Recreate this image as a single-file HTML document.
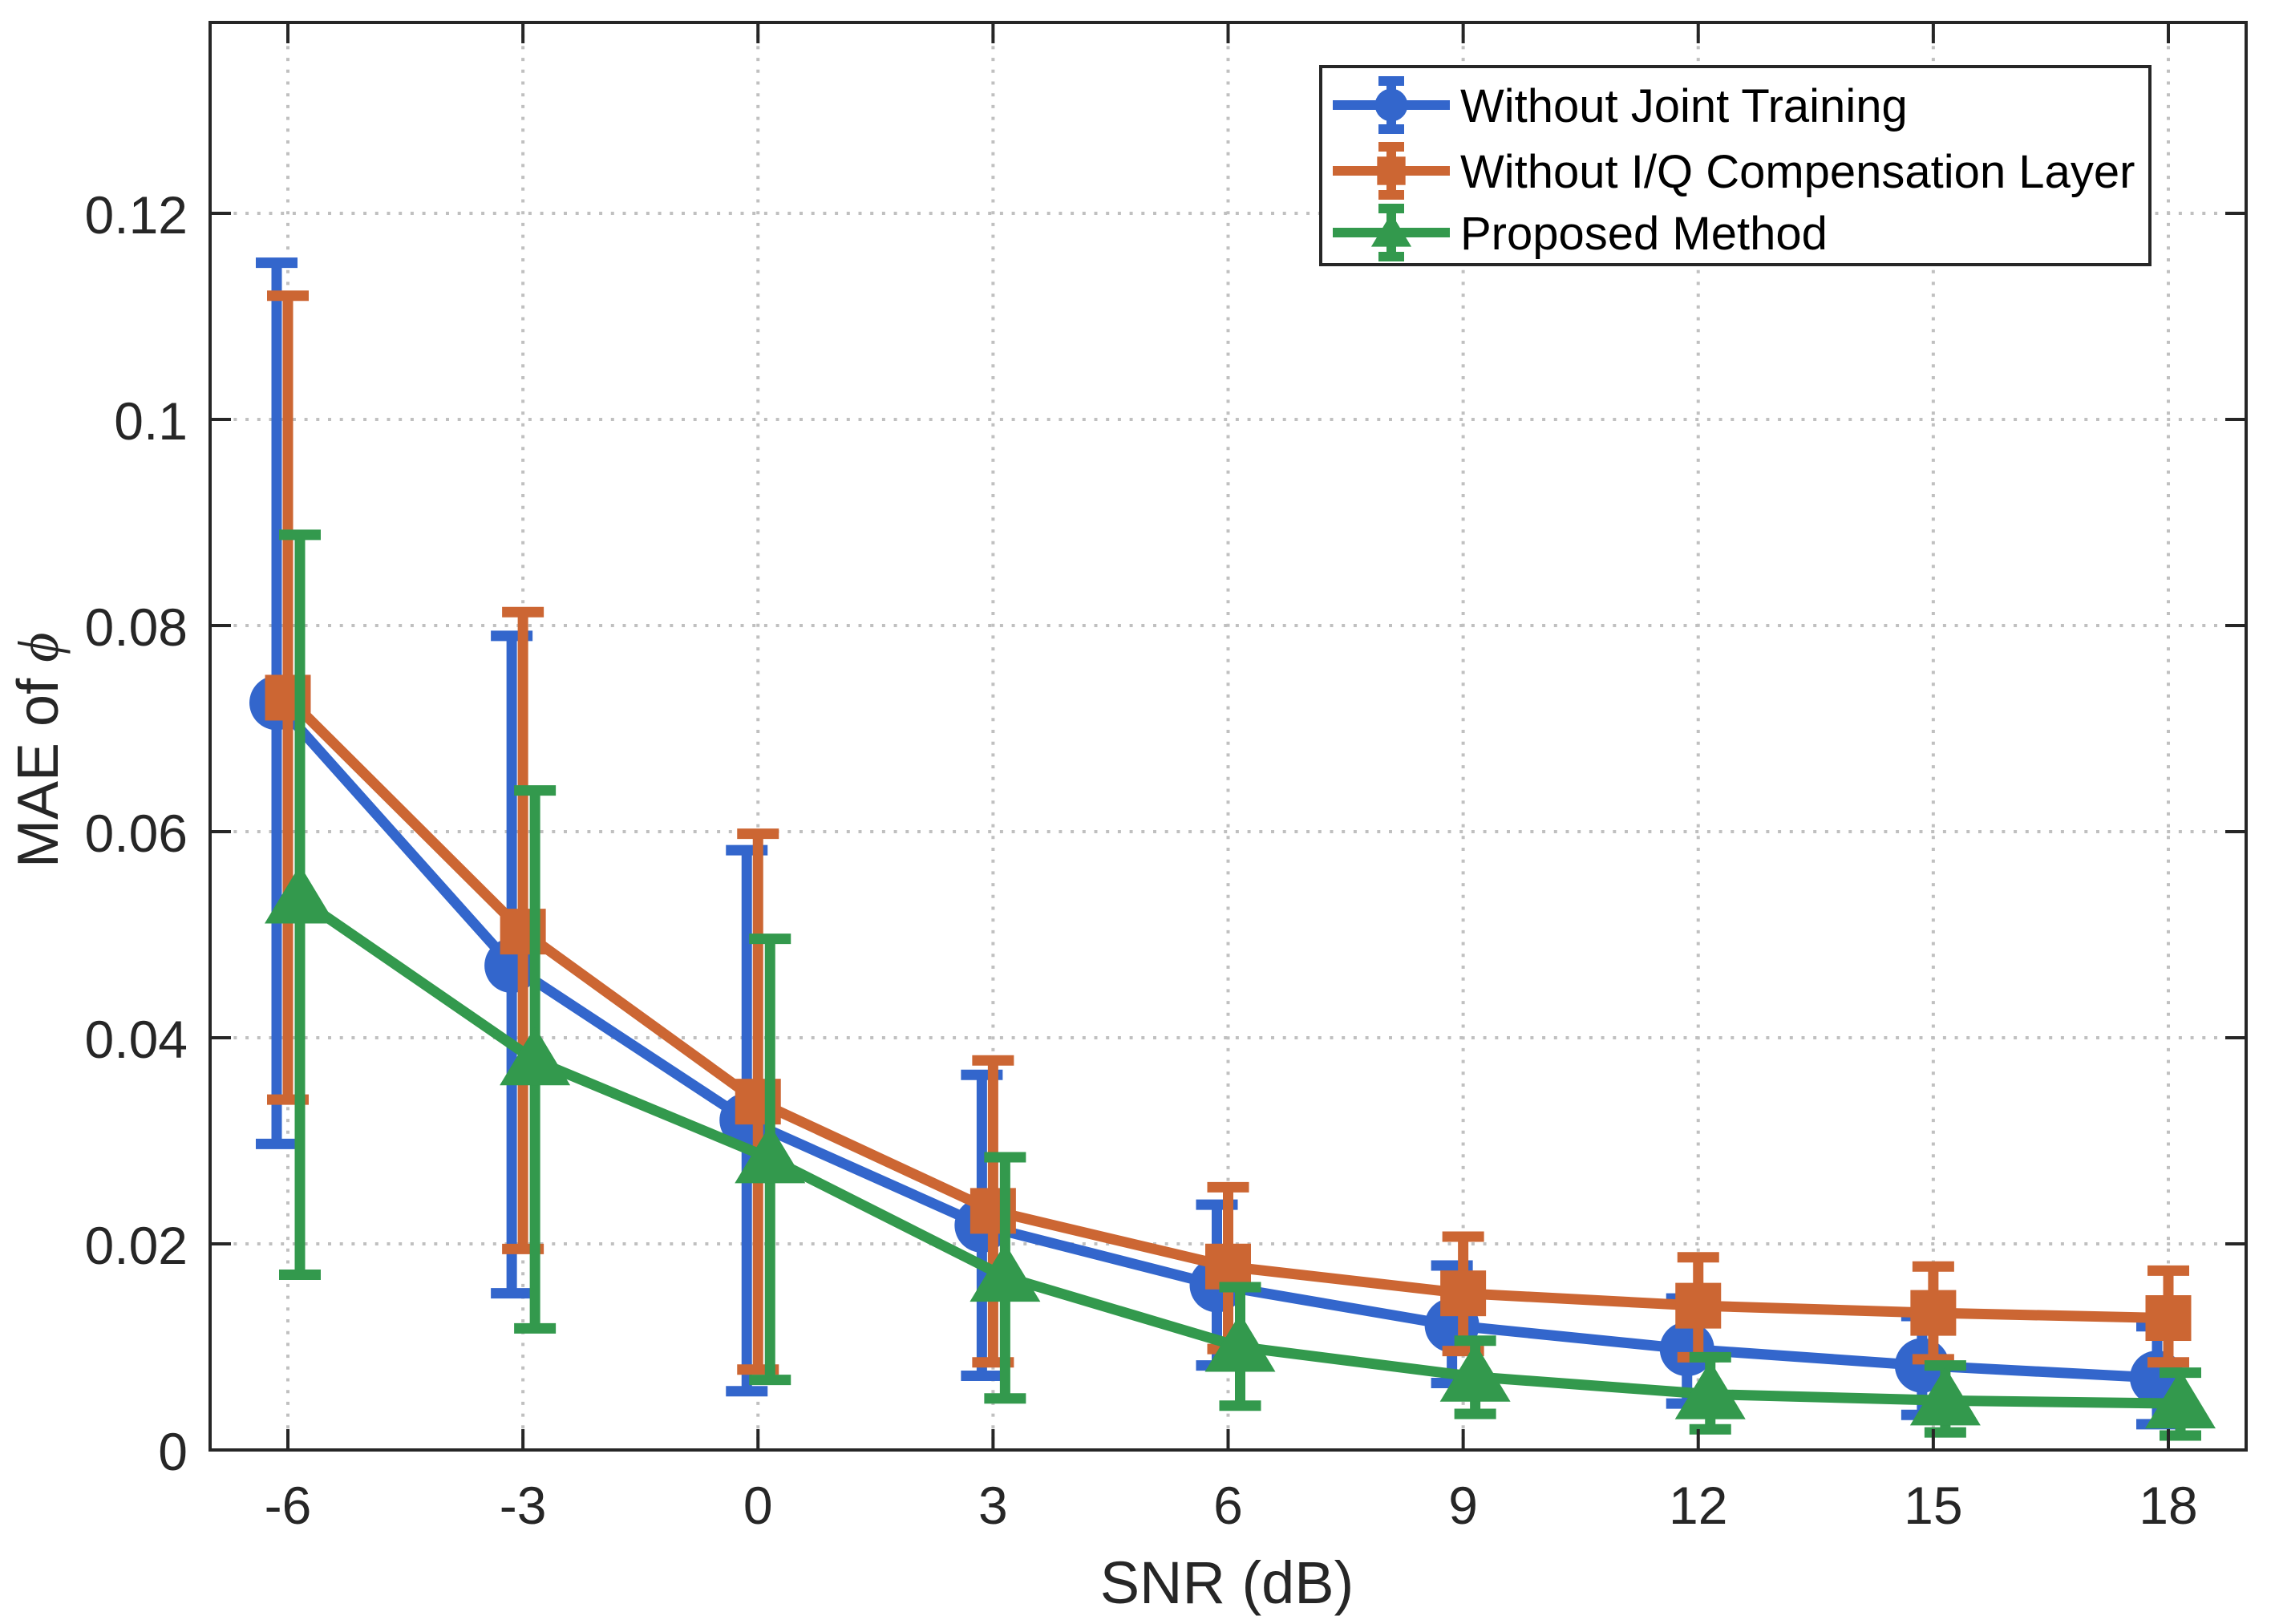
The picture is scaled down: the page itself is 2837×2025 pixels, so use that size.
<!DOCTYPE html>
<html><head><meta charset="utf-8"><style>
html,body{margin:0;padding:0;background:#fff;}
svg{display:block;font-family:"Liberation Sans",Arial,sans-serif;}
</style></head><body>
<svg id="chart" width="2837" height="2025" viewBox="0 0 2837 2025" xmlns="http://www.w3.org/2000/svg">
<rect x="0" y="0" width="2837" height="2025" fill="#fff"/>
<g id="grid"></g>
<g id="series"></g>
<g id="axes"></g>
<text x="1530" y="1999" font-size="74" text-anchor="middle" fill="#262626">SNR (dB)</text>
<text transform="translate(72,1082) rotate(-90)" font-size="72" text-anchor="start" fill="#262626">MAE of <tspan font-family="Liberation Serif, serif" font-style="italic">ϕ</tspan></text>
<g id="legend">
<rect x="1647" y="83" width="1034" height="247" fill="#fff" stroke="#262626" stroke-width="4"/>
</g>
</svg>
<script>
const categories = [-6, -3, 0, 3, 6, 9, 12, 15, 18];
const xTickLabels = ["-6", "-3", "0", "3", "6", "9", "12", "15", "18"];
const yTicks = [0, 0.02, 0.04, 0.06, 0.08, 0.1, 0.12];
const yTickLabels = ["0", "0.02", "0.04", "0.06", "0.08", "0.1", "0.12"];
const seriesNames = ["Without Joint Training", "Without I/Q Compensation Layer", "Proposed Method"];
const blueMean = [0.0725, 0.0470, 0.0320, 0.0218, 0.0160, 0.0121, 0.0098, 0.0082, 0.0070];
const blueUpper = [0.1152, 0.0790, 0.0582, 0.0364, 0.0238, 0.0179, 0.0147, 0.0130, 0.0120];
const blueLower = [0.0297, 0.0152, 0.0057, 0.0072, 0.0082, 0.0065, 0.0045, 0.0034, 0.0025];
const orangeMean = [0.0730, 0.0503, 0.0338, 0.0232, 0.0178, 0.0152, 0.0140, 0.0133, 0.0128];
const orangeUpper = [0.1120, 0.0813, 0.0598, 0.0378, 0.0255, 0.0207, 0.0187, 0.0178, 0.0174];
const orangeLower = [0.0340, 0.0195, 0.0078, 0.0085, 0.0098, 0.0096, 0.0090, 0.0088, 0.0085];
const greenMean = [0.0535, 0.0378, 0.0283, 0.0168, 0.0100, 0.0071, 0.0054, 0.0048, 0.0045];
const greenUpper = [0.0888, 0.0640, 0.0496, 0.0284, 0.0158, 0.0106, 0.0090, 0.0082, 0.0075];
const greenLower = [0.0170, 0.0118, 0.0068, 0.0050, 0.0043, 0.0035, 0.0020, 0.0017, 0.0014];

const NS = "http://www.w3.org/2000/svg";
const X0 = 262, X1 = 2801, Y0 = 28, Y1 = 1808;
function xs(v){ return 359 + (v + 6) * (2704 - 359) / 24; }
function ys(v){ return 1808 - v * (1808 - 266) / 0.12; }
function mk(tag, attrs, parent){ const e = document.createElementNS(NS, tag); for (const k in attrs) e.setAttribute(k, attrs[k]); parent.appendChild(e); return e; }

const grid = document.getElementById('grid');
const axes = document.getElementById('axes');
const gs = {stroke:"#c0c0c0", "stroke-width":4, "stroke-dasharray":"4 10.7", fill:"none"};
categories.forEach((c, i) => {
  const x = xs(c);
  const g = mk('line', Object.assign({x1:x, x2:x, y1:Y0, y2:Y1}, gs), grid);
  
  
  const t1 = mk('line', {x1:x, x2:x, y1:Y1, y2:Y1-26, stroke:"#262626", "stroke-width":4}, axes);
  
  
  const t2 = mk('line', {x1:x, x2:x, y1:Y0, y2:Y0+26, stroke:"#262626", "stroke-width":4}, axes);
  
  
  const lb = mk('text', {x:x, y:1900, "font-size":66, "text-anchor":"middle", fill:"#262626"}, axes);
  lb.textContent = xTickLabels[i];
  
  
});
yTicks.forEach((v, i) => {
  const y = ys(v);
  if (v > 0) {
    const g = mk('line', Object.assign({x1:X0, x2:X1, y1:y, y2:y}, gs), grid);
    
    
  }
  const t1 = mk('line', {x1:X0, x2:X0+26, y1:y, y2:y, stroke:"#262626", "stroke-width":4}, axes);
  
  
  const t2 = mk('line', {x1:X1, x2:X1-26, y1:y, y2:y, stroke:"#262626", "stroke-width":4}, axes);
  
  
  const lb = mk('text', {x:234, y:y+25, "font-size":66, "text-anchor":"end", fill:"#262626"}, axes);
  lb.textContent = yTickLabels[i];
  
  
});
const frame = mk('rect', {x:X0, y:Y0, width:X1-X0, height:Y1-Y0, fill:"none", stroke:"#262626", "stroke-width":4}, axes);



const seriesLayer = document.getElementById('series');
const defs = [
  {mean:blueMean, up:blueUpper, lo:blueLower, color:"#3366cc", dx:-14, shape:"circle", name:"blue"},
  {mean:orangeMean, up:orangeUpper, lo:orangeLower, color:"#cc6633", dx:0, shape:"square", name:"orange"},
  {mean:greenMean, up:greenUpper, lo:greenLower, color:"#33994d", dx:15, shape:"triangle", name:"green"}
];
function marker(shape, cx, cy, color, parent, s){
  let m;
  if (shape === "circle") m = mk('circle', {cx:cx, cy:cy, r:34*s, fill:color}, parent);
  else if (shape === "square") m = mk('rect', {x:cx-28.5*s, y:cy-28.5*s, width:57*s, height:57*s, fill:color}, parent);
  else m = mk('polygon', {points:(cx)+","+(cy-42*s)+" "+(cx-44*s)+","+(cy+31*s)+" "+(cx+44*s)+","+(cy+31*s), fill:color}, parent);
  return m;
}
defs.forEach(d => {
  const g = mk('g', {}, seriesLayer);
  
  
  const pts = categories.map((c, i) => (xs(c)+d.dx) + "," + ys(d.mean[i])).join(" ");
  const pl = mk('polyline', {points:pts, fill:"none", stroke:d.color, "stroke-width":13, "stroke-linejoin":"round"}, g);
  
  
  categories.forEach((c, i) => {
    const x = xs(c) + d.dx, yu = ys(d.up[i]), yl = ys(d.lo[i]);
    const eb = mk('path', {d:"M"+x+" "+yu+"V"+yl+"M"+(x-26)+" "+yu+"H"+(x+26)+"M"+(x-26)+" "+yl+"H"+(x+26), stroke:d.color, "stroke-width":13, fill:"none"}, g);
    
    
    const m = marker(d.shape, x, ys(d.mean[i]), d.color, g, 1);
    
    
  });
});

const legend = document.getElementById('legend');
const rowsY = [131, 213, 290];
defs.forEach((d, i) => {
  const y = rowsY[i];
  const g = mk('g', {}, legend);
  
  
  mk('path', {d:"M1662 "+y+"H1808M1735 "+(y-34)+"V"+(y+34)+"M1719 "+(y-30)+"H1751M1719 "+(y+30)+"H1751", stroke:d.color, "stroke-width":12, fill:"none"}, g);
  marker(d.shape, 1735, y, d.color, g, d.shape === "circle" ? 0.6 : (d.shape === "square" ? 0.62 : 0.57));
  const t = mk('text', {x:1821, y:y+21, "font-size":58, fill:"#000"}, g);
  t.textContent = seriesNames[i];
  
  
});
</script>
</body></html>
